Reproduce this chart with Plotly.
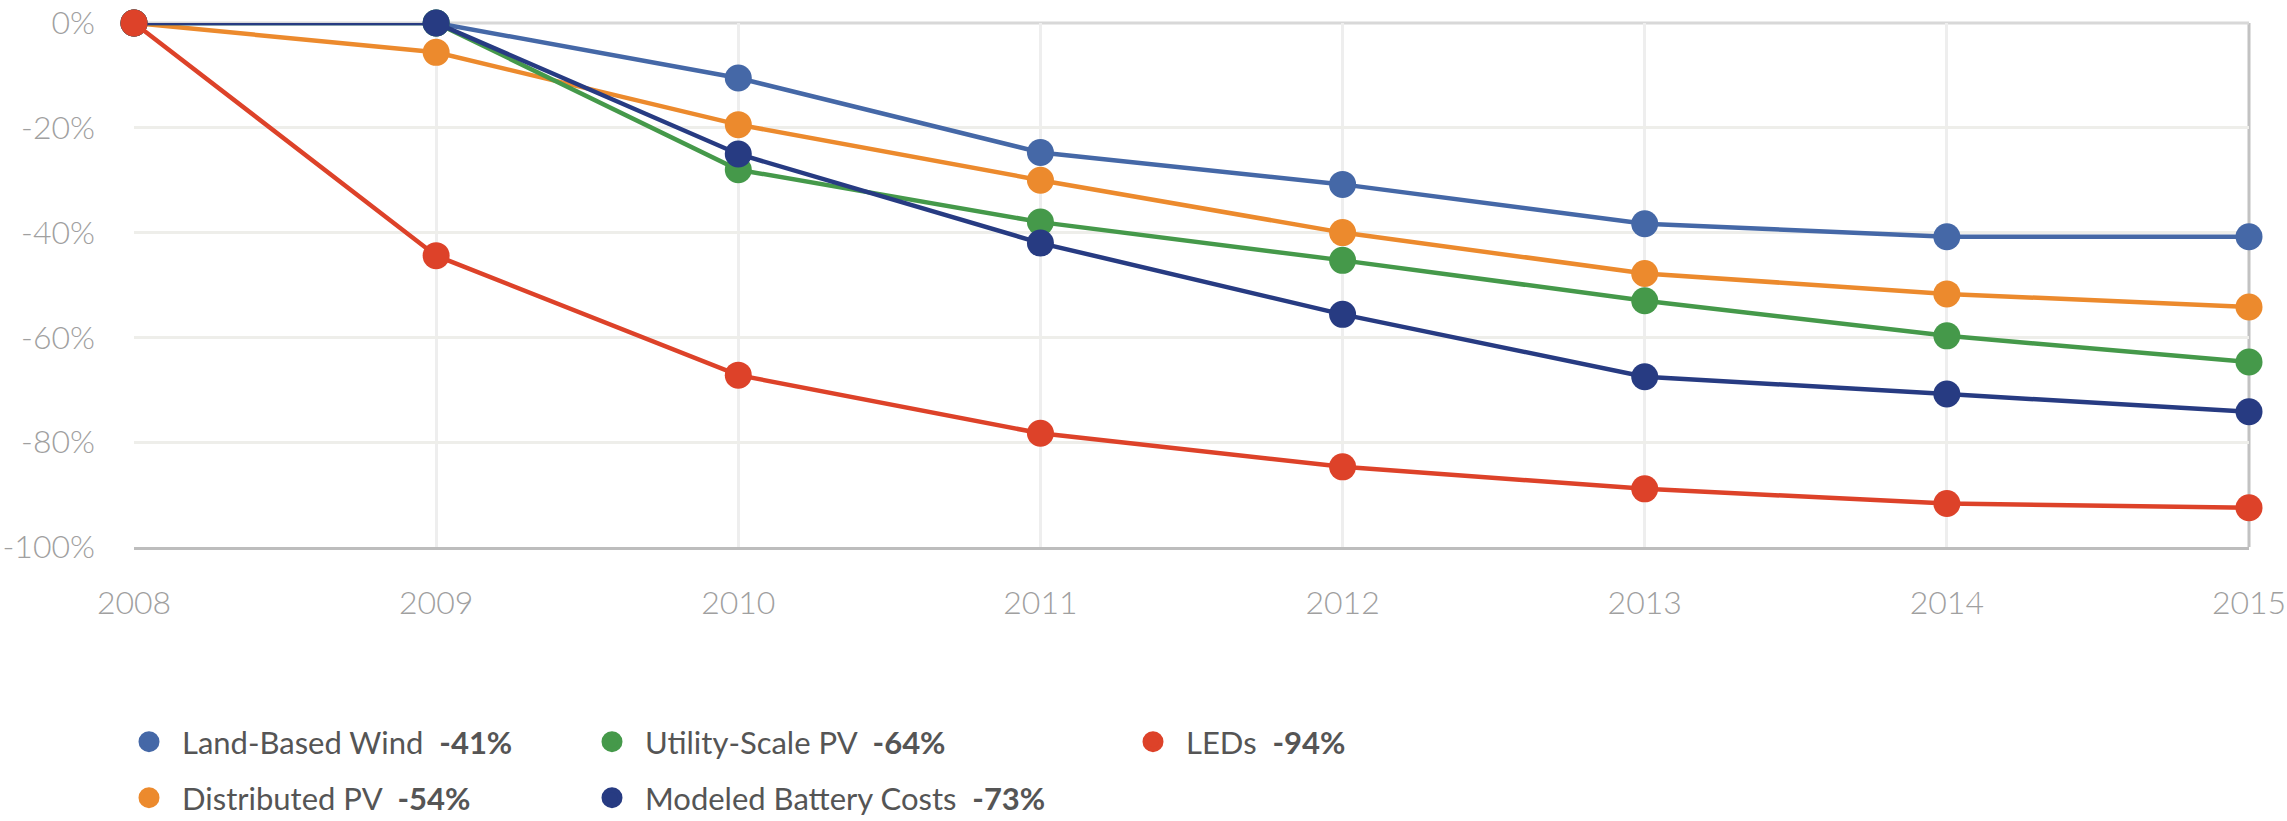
import plotly.graph_objects as go

years = [2008, 2009, 2010, 2011, 2012, 2013, 2014, 2015]

wind = [0, 0, -10.5, -24.7, -30.8, -38.3, -40.8, -40.8]
distributed_pv = [0, -5.6, -19.4, -30.0, -40.0, -47.8, -51.7, -54.2]
utility_pv = [0, 0, -28.0, -38.0, -45.3, -53.0, -59.7, -64.7]
battery = [0, 0, -25.0, -42.0, -55.6, -67.5, -70.8, -74.2]
leds = [0, -44.4, -67.2, -78.3, -84.7, -88.9, -91.7, -92.5]

names = ["Land-Based Wind", "Distributed PV", "Utility-Scale PV", "Modeled Battery Costs", "LEDs"]
totals = ["-41%", "-54%", "-64%", "-73%", "-94%"]
series = [wind, distributed_pv, utility_pv, battery, leds]
colors = ["#4568a7", "#ec8a2d", "#45994a", "#273b82", "#dd4229"]

y_ticks = [0, -20, -40, -60, -80, -100]
y_labels = ["0%", "-20%", "-40%", "-60%", "-80%", "-100%"]

fig = go.Figure()
for vals, c in zip(series, colors):
    fig.add_trace(go.Scatter(
        x=years, y=vals, mode="lines+markers",
        line=dict(color=c, width=4.5),
        marker=dict(color=c, size=27),
        cliponaxis=False, showlegend=False, hoverinfo="skip"))

W, H = 2287, 821
PL, PT, PR, PB = 134, 23, 2249, 547          # plot box in page px
L, T, R, B = PL, PT, W - PR, H - PB
pw, ph = PR - PL, PB - PT

legend_pos = [(116, 742), (116, 798), (579, 742), (579, 798), (1120, 742)]
legend_ids = ["legend", "legend2", "legend3", "legend4", "legend5"]
for name, tot, c, lid in zip(names, totals, colors, legend_ids):
    fig.add_trace(go.Scatter(
        x=[None], y=[None], mode="markers",
        marker=dict(color=c, size=16, line=dict(color=c, width=5)),
        name=f"{name}  <b>{tot}</b>", legend=lid, showlegend=True))

layout_legends = {}
for (px, py), lid in zip(legend_pos, legend_ids):
    layout_legends[lid] = dict(
        x=(px - PL) / pw, y=(PB - py) / ph,
        xanchor="left", yanchor="middle",
        font=dict(family="Lato", size=31, color="#555555"),
        bgcolor="rgba(0,0,0,0)", itemwidth=56)

tick_font = dict(family="Lato", size=32, color="#a0a0a0", weight=300)

fig.update_layout(
    width=W, height=H,
    margin=dict(l=L, r=R, t=T, b=B, pad=0, autoexpand=False),
    paper_bgcolor="white", plot_bgcolor="white",
    font=dict(family="Lato", size=24, color="#a0a0a0"),
    xaxis=dict(
        range=[2008, 2015], tickvals=years, ticktext=[str(y) for y in years],
        showgrid=True, gridcolor="#eeeeee", gridwidth=3,
        showline=True, linecolor="#bdbdbd", linewidth=3,
        zeroline=False, ticks="", ticklabelstandoff=26, automargin=False,
        ticklabeloverflow="allow", tickfont=tick_font),
    yaxis=dict(
        range=[-100, 0], tickvals=y_ticks, ticktext=y_labels,
        showgrid=True, gridcolor="#eeeeea", gridwidth=3,
        showline=False, zeroline=False, ticks="", ticklabelstandoff=38,
        automargin=False, ticklabeloverflow="allow", tickfont=tick_font),
    shapes=[
        dict(type="line", xref="paper", yref="paper", x0=1, x1=1, y0=0, y1=1,
             line=dict(color="#c2c2c2", width=3), layer="below"),
        dict(type="line", xref="paper", yref="paper", x0=0, x1=1, y0=1, y1=1,
             line=dict(color="#d8d8d8", width=3), layer="below"),
    ],
    **layout_legends,
)

fig.write_html(
    "out.html",
    config={"displayModeBar": False},
    post_script="document.body.style.margin='0';document.body.style.overflow='hidden';",
)
